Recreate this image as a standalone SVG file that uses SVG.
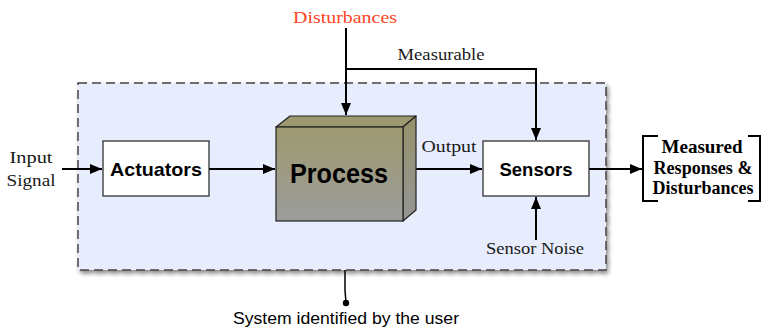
<svg xmlns="http://www.w3.org/2000/svg" width="761" height="329" viewBox="0 0 761 329">
  <defs>
    <marker id="arrow" viewBox="0 0 12 10" refX="12" refY="5" markerWidth="12" markerHeight="10" markerUnits="userSpaceOnUse" orient="auto">
      <path d="M0,0 L12,5 L0,10 Z" fill="#000"/>
    </marker>
    <linearGradient id="processFront" x1="0" y1="0" x2="0" y2="1">
      <stop offset="0" stop-color="#9e9a70"/>
      <stop offset="1" stop-color="#9c9c9c"/>
    </linearGradient>
    <linearGradient id="processSide" x1="0" y1="0" x2="0" y2="1">
      <stop offset="0" stop-color="#96926a"/>
      <stop offset="1" stop-color="#959595"/>
    </linearGradient>
    <filter id="shadow" x="-5%" y="-5%" width="112%" height="115%">
      <feDropShadow dx="2" dy="3" stdDeviation="2" flood-color="#000" flood-opacity="0.45"/>
    </filter>
  </defs>
  <style>
    .serif { font-family: "Liberation Serif", "DejaVu Serif", serif; fill: #1a1a1a; font-size: 17px; }
    .bold-serif { font-family: "Liberation Serif", "DejaVu Serif", serif; font-weight: bold; fill: #000; font-size: 18px; }
    .label { font-family: "Liberation Sans", Arial, sans-serif; font-weight: bold; fill: #000; }
    .box { fill: #fff; stroke: #222; stroke-width: 1.2; }
    .wire { fill: none; stroke: #000; stroke-width: 2; }
  </style>

  <rect width="761" height="329" fill="#fff"/>

  <!-- system boundary -->
  <g id="system">
    <rect x="78" y="83" width="528" height="187" fill="#e7edfd" stroke="#444" stroke-width="1.5" stroke-dasharray="9,5" filter="url(#shadow)"/>
  </g>

  <!-- connectors -->
  <g id="connectors">
    <line class="wire" x1="62" y1="169" x2="102" y2="169" marker-end="url(#arrow)"/>
    <line class="wire" x1="209" y1="169" x2="275" y2="169" marker-end="url(#arrow)"/>
    <line class="wire" x1="416" y1="169" x2="482" y2="169" marker-end="url(#arrow)"/>
    <line class="wire" x1="589" y1="169" x2="642" y2="169" marker-end="url(#arrow)"/>
    <line class="wire" x1="346" y1="28" x2="346" y2="115" marker-end="url(#arrow)"/>
    <polyline class="wire" points="346,69 536,69 536,140" marker-end="url(#arrow)"/>
    <line class="wire" x1="536" y1="240" x2="536" y2="197" marker-end="url(#arrow)"/>
    <polyline fill="none" stroke="#000" stroke-width="1.5" points="345,270 345,290 346,303"/>
    <circle cx="346" cy="303" r="3.2" fill="#000"/>
  </g>

  <!-- actuators -->
  <g id="actuators">
    <rect class="box" x="103" y="141" width="106" height="55"/>
    <text class="label" x="156" y="176" font-size="19" text-anchor="middle" textLength="92" lengthAdjust="spacingAndGlyphs">Actuators</text>
  </g>

  <!-- process block -->
  <g id="process">
    <polygon points="276,127 290,116 416,116 403,127" fill="#9d996f" stroke="#222" stroke-width="1.2" stroke-linejoin="round"/>
    <polygon points="403,127 416,116 416,210 403,221" fill="url(#processSide)" stroke="#222" stroke-width="1.2" stroke-linejoin="round"/>
    <rect x="276" y="127" width="127" height="94" fill="url(#processFront)" stroke="#222" stroke-width="1.2"/>
    <text class="label" x="339" y="183" font-size="27" text-anchor="middle" textLength="98" lengthAdjust="spacingAndGlyphs">Process</text>
  </g>

  <!-- sensors -->
  <g id="sensors">
    <rect class="box" x="483" y="141" width="106" height="55"/>
    <text class="label" x="536" y="176" font-size="19" text-anchor="middle" textLength="73" lengthAdjust="spacingAndGlyphs">Sensors</text>
  </g>

  <!-- measured outputs -->
  <g id="measured">
    <polyline fill="none" stroke="#000" stroke-width="2" points="658,136 643,136 643,201 658,201"/>
    <polyline fill="none" stroke="#000" stroke-width="2" points="748,136 760,136 760,201 748,201"/>
    <text class="bold-serif" x="702" y="153" text-anchor="middle" textLength="81" lengthAdjust="spacingAndGlyphs">Measured</text>
    <text class="bold-serif" x="703" y="174" text-anchor="middle" textLength="99" lengthAdjust="spacingAndGlyphs">Responses &amp;</text>
    <text class="bold-serif" x="703" y="194" text-anchor="middle" textLength="101" lengthAdjust="spacingAndGlyphs">Disturbances</text>
  </g>

  <!-- labels -->
  <g id="labels">
    <text class="serif" x="345" y="23" font-size="18" text-anchor="middle" style="fill:#ff4422" textLength="104" lengthAdjust="spacingAndGlyphs">Disturbances</text>
    <text class="serif" x="441" y="60" text-anchor="middle" textLength="87" lengthAdjust="spacingAndGlyphs">Measurable</text>
    <text class="serif" x="449" y="152" text-anchor="middle" textLength="55" lengthAdjust="spacingAndGlyphs">Output</text>
    <text class="serif" x="31" y="163" text-anchor="middle" textLength="43" lengthAdjust="spacingAndGlyphs">Input</text>
    <text class="serif" x="31" y="186" text-anchor="middle" textLength="49" lengthAdjust="spacingAndGlyphs">Signal</text>
    <text class="serif" x="535" y="254" text-anchor="middle" textLength="98" lengthAdjust="spacingAndGlyphs">Sensor Noise</text>
    <text x="346" y="324" font-family="'Liberation Sans', Arial, sans-serif" font-size="16" fill="#000" text-anchor="middle" textLength="226" lengthAdjust="spacingAndGlyphs">System identified by the user</text>
  </g>
</svg>
